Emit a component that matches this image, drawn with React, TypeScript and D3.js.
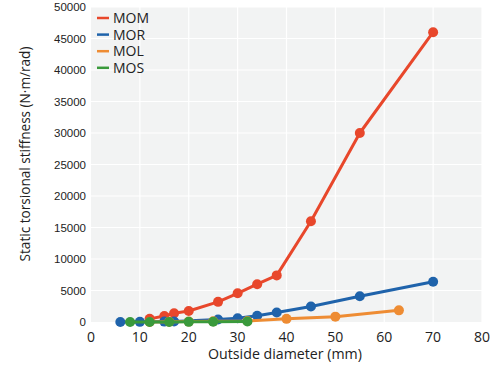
import React from 'react'
import * as d3 from 'd3'

const xTicks = [0, 10, 20, 30, 40, 50, 60, 70, 80]
const yTicks = [0, 5000, 10000, 15000, 20000, 25000, 30000, 35000, 40000, 45000, 50000]

const momX = [12, 15, 17, 20, 26, 30, 34, 38, 45, 55, 70]
const momY = [500, 950, 1380, 1750, 3200, 4550, 6000, 7400, 16000, 30000, 46000]

const morX = [6, 10, 15, 17, 26, 30, 34, 38, 45, 55, 70]
const morY = [0, 20, 60, 90, 400, 600, 1000, 1500, 2450, 4100, 6400]

const molX = [12, 16, 20, 25, 32, 40, 50, 63]
const molY = [10, 30, 60, 100, 150, 500, 850, 1850]

const mosX = [8, 12, 16, 20, 25, 32]
const mosY = [0, 5, 10, 20, 40, 80]

const seriesNames = ['MOM', 'MOR', 'MOL', 'MOS']
const colors = ['#e8472b', '#1f63ab', '#ee8c33', '#3a9a3c']

const W = 490
const H = 365
const margin = { left: 91, top: 7, right: 8, bottom: 43 }

export default function App() {
  const x = d3.scaleLinear().domain([0, 80]).range([margin.left, W - margin.right])
  const y = d3.scaleLinear().domain([0, 50000]).range([H - margin.bottom, margin.top])

  const series = [
    { name: seriesNames[0], xs: momX, ys: momY, color: colors[0] },
    { name: seriesNames[1], xs: morX, ys: morY, color: colors[1] },
    { name: seriesNames[2], xs: molX, ys: molY, color: colors[2] },
    { name: seriesNames[3], xs: mosX, ys: mosY, color: colors[3] },
  ]

  const line = d3.line<[number, number]>().x(d => x(d[0])).y(d => y(d[1]))

  return (
    <svg width={W} height={H} style={{ position: 'absolute', left: 0, top: 0 }}>
      <rect x={0} y={0} width={W} height={H} fill="#fff" />
      <rect x={x(0)} y={y(50000)} width={x(80) - x(0)} height={y(0) - y(50000)} fill="#f2f3f3" />
      {xTicks.slice(1).map(t => (
        <line key={'gx' + t} x1={x(t)} x2={x(t)} y1={y(0)} y2={y(50000)} stroke="#fff" strokeWidth={1.2} />
      ))}
      {yTicks.slice(1).map(t => (
        <line key={'gy' + t} x1={x(0)} x2={x(80)} y1={y(t)} y2={y(t)} stroke="#fff" strokeWidth={1.2} />
      ))}
      {yTicks.map(t => (
        <text key={'ty' + t} x={x(0) - 5} y={y(t)} dy="0.35em" textAnchor="end"
          fontFamily="'Liberation Sans Narrow', sans-serif" fontSize={11.5} fill="#222">{t}</text>
      ))}
      {xTicks.map(t => (
        <text key={'tx' + t} x={x(t)} y={342} textAnchor="middle"
          fontFamily="'Open Sans', sans-serif" fontSize={14} fill="#222">{t}</text>
      ))}
      <text x={285} y={359} textAnchor="middle" fontFamily="'Open Sans', sans-serif" fontSize={14.2} fill="#222">
        Outside diameter (mm)
      </text>
      <text transform="translate(30,154) rotate(-90)" textAnchor="middle"
        fontFamily="'Open Sans', sans-serif" fontSize={13.6} fill="#222">
        Static torsional stiffness (N·m/rad)
      </text>
      {series.map(s => {
        const pts = s.xs.map((v, i) => [v, s.ys[i]] as [number, number])
        return (
          <g key={s.name}>
            <path d={line(pts) || ''} fill="none" stroke={s.color} strokeWidth={3} strokeLinejoin="round" />
            {pts.map((p, i) => (
              <circle key={i} cx={x(p[0])} cy={y(p[1])} r={5} fill={s.color} />
            ))}
          </g>
        )
      })}
      {series.map((s, i) => (
        <g key={'lg' + s.name} transform={`translate(97,${18 + i * 16.6})`}>
          <line x1={0} x2={12} y1={0} y2={0} stroke={s.color} strokeWidth={2.5} />
          <text x={16} y={0} dy="0.36em" fontFamily="'Open Sans', sans-serif" fontSize={14} fill="#222">{s.name}</text>
        </g>
      ))}
    </svg>
  )
}
